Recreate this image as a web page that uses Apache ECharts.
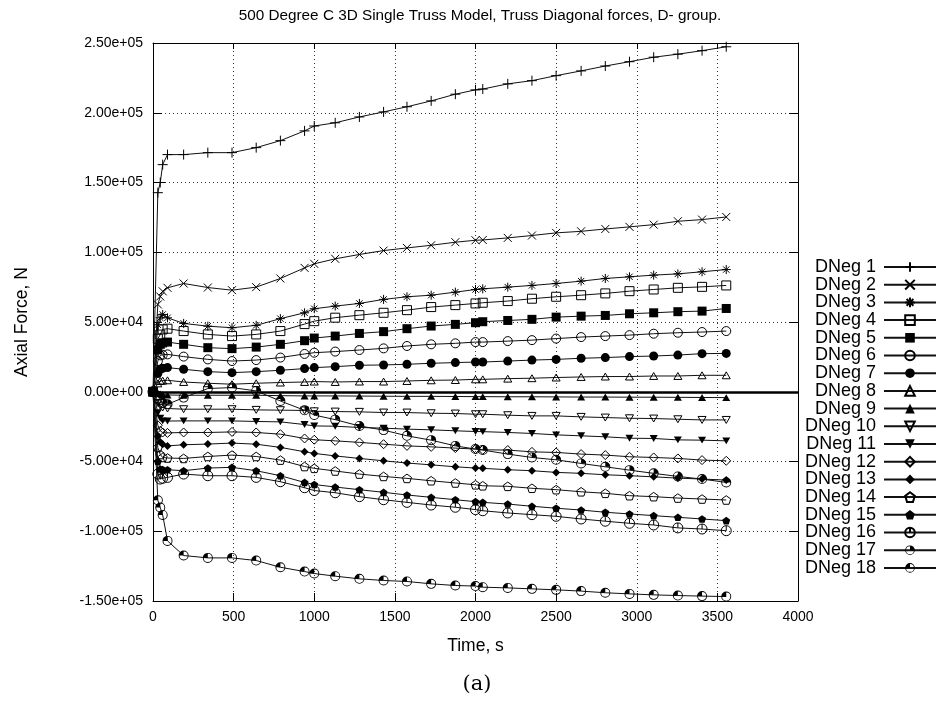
<!DOCTYPE html>
<html><head><meta charset="utf-8">
<script src="https://cdn.jsdelivr.net/npm/echarts@6/dist/echarts.min.js"></script>
<style>html,body{margin:0;padding:0;background:#fff}#c{width:944px;height:720px}</style>
</head><body><div id="c"></div>
<script>
const times = [0, 30, 45, 60, 90, 190, 340, 490, 640, 790, 940, 1000, 1130, 1280, 1430, 1575, 1725, 1875, 2000, 2045, 2200, 2350, 2500, 2655, 2805, 2955, 3105, 3255, 3405, 3555];
const DNeg1 = [0, 142700, 150000, 162800, 170000, 170000, 171400, 171400, 175000, 180000, 187000, 190500, 192800, 197000, 200600, 204300, 208500, 213300, 216400, 217000, 220700, 223000, 226600, 230000, 233500, 236600, 239800, 242000, 244500, 247300];
const DNeg2 = [0, 62600, 68300, 72000, 74500, 77600, 74700, 72800, 75000, 81200, 88800, 91700, 95300, 98400, 101200, 103100, 105000, 107200, 108600, 108800, 110300, 112000, 113900, 115000, 116700, 118200, 119800, 122200, 123400, 125300];
const DNeg3 = [0, 48000, 53000, 55400, 53000, 49000, 47000, 45900, 47600, 52400, 56600, 59500, 61400, 63300, 66200, 68100, 69200, 71400, 73300, 73800, 75000, 76200, 77600, 79300, 81200, 82400, 83600, 84500, 86000, 87600];
const DNeg4 = [0, 38000, 41000, 44700, 45200, 43500, 41100, 39900, 41100, 43500, 48500, 50600, 53100, 54900, 56600, 58500, 60700, 62100, 63300, 63800, 65000, 66700, 68100, 69200, 70500, 72100, 73300, 74500, 75200, 76200];
const DNeg5 = [0, 30000, 34000, 35000, 35600, 34000, 31600, 30900, 32000, 34000, 36600, 38500, 39900, 41800, 43100, 45200, 47100, 48300, 49500, 50200, 51100, 51900, 53500, 54200, 54700, 55900, 56600, 57400, 57800, 59700];
const DNeg6 = [0, 22000, 26100, 26500, 26800, 25200, 23200, 22000, 22700, 24500, 27100, 28000, 28800, 29900, 31100, 32800, 34000, 34700, 35600, 35600, 36300, 37000, 38100, 39200, 39900, 40600, 41600, 42300, 42800, 43500];
const DNeg7 = [0, 13000, 16100, 16800, 17300, 16100, 14400, 13700, 14400, 15400, 16600, 17300, 18000, 19000, 19200, 19700, 20400, 20900, 21300, 21300, 22000, 22700, 23200, 24000, 24500, 25200, 25600, 26300, 27300, 27500];
const DNeg8 = [0, 6000, 7700, 8000, 8200, 7000, 6100, 5400, 6100, 6600, 7000, 7300, 7000, 7300, 7300, 7700, 8200, 8400, 8900, 8900, 9400, 9700, 10200, 10600, 10900, 10900, 11300, 11300, 11800, 11800];
const DNeg9 = [0, -1000, -1500, -2000, -2300, -2500, -2500, -2500, -2500, -2800, -3000, -3000, -3000, -3100, -3200, -3300, -3300, -3400, -3500, -3500, -3600, -3600, -3700, -3800, -3800, -3900, -3900, -4000, -4100, -4200];
const DNeg10 = [0, -8000, -10000, -11300, -12000, -12500, -12500, -12500, -13000, -13200, -13400, -14000, -14200, -14400, -14900, -14900, -15400, -15600, -16100, -16100, -16800, -17300, -17300, -18000, -18500, -19000, -19200, -19700, -20200, -20200];
const DNeg11 = [0, -15000, -19000, -20900, -21000, -20900, -20900, -20900, -21300, -21600, -23500, -24500, -24700, -25600, -26100, -26800, -27300, -28000, -28500, -28600, -29200, -29900, -30900, -31600, -32300, -33300, -33500, -34500, -34700, -35200];
const DNeg12 = [0, -24000, -28000, -29200, -29500, -29200, -29200, -28800, -29200, -30400, -33500, -34400, -35200, -36300, -37600, -38800, -39500, -40400, -41100, -41600, -41800, -43100, -43500, -44700, -45400, -46600, -47100, -47800, -49000, -49500];
const DNeg13 = [0, -32000, -36000, -37600, -38800, -38000, -37500, -36800, -37600, -39900, -43000, -44200, -46000, -47800, -49500, -51100, -52400, -53800, -54700, -54900, -55900, -56600, -57800, -58500, -59500, -60200, -61000, -61900, -62600, -63300];
const DNeg14 = [0, -40000, -45000, -47100, -47500, -47800, -46400, -45400, -46400, -49000, -53600, -54900, -56800, -59000, -60700, -62100, -63800, -65400, -66700, -67400, -67800, -69200, -70200, -71700, -72800, -74500, -75200, -76200, -76900, -77600];
const DNeg15 = [0, -50000, -55400, -55700, -55900, -56600, -54700, -54200, -56600, -60200, -65000, -66500, -68300, -70200, -72100, -74000, -75700, -77400, -78800, -79300, -80500, -82100, -83500, -84800, -86400, -87600, -88800, -90000, -91200, -92400];
const DNeg16 = [0, -59000, -62600, -62000, -61400, -59000, -60200, -60200, -61400, -64500, -68800, -70800, -72400, -75200, -77400, -79300, -81200, -82800, -84500, -85300, -86900, -88100, -89300, -91200, -92800, -94300, -95500, -97600, -98400, -99600];
const DNeg17 = [0, -3000, -6000, -8000, -9000, -4200, 2300, 3000, 600, -6600, -13300, -16700, -20000, -24500, -27500, -31600, -34700, -38800, -41100, -41800, -44700, -47100, -48800, -51400, -53800, -56200, -58500, -60700, -62600, -65000];
const DNeg18 = [0, -77800, -83000, -88300, -106900, -117400, -119100, -119100, -121000, -125800, -128900, -130300, -132200, -134100, -135300, -136000, -137700, -138900, -139300, -140100, -140600, -141300, -142000, -142900, -144100, -144900, -145600, -146100, -146500, -146800];
const seriesNames = ['DNeg 1','DNeg 2','DNeg 3','DNeg 4','DNeg 5','DNeg 6','DNeg 7','DNeg 8','DNeg 9','DNeg 10','DNeg 11','DNeg 12','DNeg 13','DNeg 14','DNeg 15','DNeg 16','DNeg 17','DNeg 18'];
const seriesValues = [DNeg1,DNeg2,DNeg3,DNeg4,DNeg5,DNeg6,DNeg7,DNeg8,DNeg9,DNeg10,DNeg11,DNeg12,DNeg13,DNeg14,DNeg15,DNeg16,DNeg17,DNeg18];
const xTicks = {min: 0, max: 4000, interval: 500};
const yTicks = {min: -150000, max: 250000, interval: 50000};

const ring = 'M5,0 A5,5 0 1,1 5,10 A5,5 0 1,1 5,0 Z M5,0.9 A4.1,4.1 0 1,0 5,9.1 A4.1,4.1 0 1,0 5,0.9 Z ';
const markers = [
  {s:'path://M0,5L10,5M5,0L5,10', z:10, fill:false},
  {s:'path://M0,0L10,10M10,0L0,10', z:8, fill:false},
  {s:'path://M0,5L10,5M5,0L5,10M1.5,1.5L8.5,8.5M8.5,1.5L1.5,8.5', z:9, fill:false},
  {s:'rect', z:9, fill:false},
  {s:'rect', z:9, fill:true},
  {s:'circle', z:9, fill:false},
  {s:'circle', z:9, fill:true},
  {s:'path://M5,0L10,8.66L0,8.66Z', z:8, fill:false},
  {s:'path://M5,0L10,8.66L0,8.66Z', z:8, fill:true},
  {s:'path://M0,0L10,0L5,8.66Z', z:8, fill:false},
  {s:'path://M0,0L10,0L5,8.66Z', z:8, fill:true},
  {s:'path://M5,0L10,5L5,10L0,5Z', z:9, fill:false},
  {s:'path://M5,0L10,5L5,10L0,5Z', z:8, fill:true},
  {s:'path://M5,0L9.76,3.45L7.94,9.05L2.06,9.05L0.24,3.45Z', z:9, fill:false},
  {s:'path://M5,0L9.76,3.45L7.94,9.05L2.06,9.05L0.24,3.45Z', z:8, fill:true},
  {s:'path://M5,0 A5,5 0 1,1 5,10 A5,5 0 1,1 5,0 Z M5,0L5,5', z:10, fill:false},
  {s:'path://' + ring + 'M5,5 L9.1,5 A4.1,4.1 0 0,0 5,0.9 Z', z:10, fill:true},
  {s:'path://' + ring + 'M5,5 L5,0.9 A4.1,4.1 0 0,0 0.9,5 Z', z:10, fill:true}
];

const series = seriesNames.map((name, k) => {
  const m = markers[k];
  const s = {
    name: name,
    type: 'line',
    data: times.map((t, i) => [t, seriesValues[k][i]]),
    symbol: m.s,
    symbolSize: m.z,
    showAllSymbol: true,
    symbolKeepAspect: true,
    lineStyle: {color: '#111', width: 1},
    itemStyle: m.fill ? {color: '#000', borderWidth: 0} : {color: 'none', borderColor: '#000', borderWidth: 1},
    emphasis: {disabled: true},
    z: 3
  };
  if (k === 0) {
    s.markLine = {
      silent: true, symbol: 'none', label: {show: false},
      lineStyle: {color: '#000', width: 2.5, type: 'solid'},
      data: [{yAxis: 0}], animation: false
    };
  }
  return s;
});

function yFmt(v) {
  return v.toExponential(2).replace(/e([+-])(\d)$/, 'e$10$2');
}

const font = 'Liberation Sans, Arial, Helvetica, sans-serif';
const chart = echarts.init(document.getElementById('c'), null, {renderer: 'canvas'});
chart.setOption({
  animation: false,
  backgroundColor: '#fff',
  textStyle: {fontFamily: font, color: '#000'},
  title: [{
    text: '500 Degree C 3D Single Truss Model, Truss Diagonal forces, D- group.',
    left: 475, top: 3, textAlign: 'center',
    textStyle: {fontFamily: font, fontSize: 15.3, fontWeight: 'normal', color: '#000'}
  }, {
    text: '(a)', left: 472, top: 669, textAlign: 'center',
    textStyle: {fontFamily: 'DejaVu Serif, Liberation Serif, serif', fontSize: 21, fontWeight: 'normal', color: '#000'}
  }],
  grid: {left: 153, top: 43, width: 645, height: 558, containLabel: false, outerBoundsMode: 'none'},
  legend: {
    orient: 'vertical', right: 7, top: 258, align: 'right', padding: 0,
    itemWidth: 52, itemHeight: 12, itemGap: -0.3,
    textStyle: {fontFamily: font, fontSize: 18, color: '#000', padding: [0, 3, 0, 0]},
    data: seriesNames
  },
  xAxis: [{
    type: 'value', min: xTicks.min, max: xTicks.max, interval: xTicks.interval,
    name: 'Time, s', nameLocation: 'middle', nameGap: 36,
    nameTextStyle: {fontFamily: font, fontSize: 17.5, color: '#000'},
    axisLine: {show: true, onZero: false, lineStyle: {color: '#000', width: 1}},
    axisTick: {show: true, inside: true, length: 8, lineStyle: {color: '#000'}},
    axisLabel: {fontFamily: font, fontSize: 14, color: '#000', margin: 9, formatter: v => String(v)},
    splitLine: {show: true, lineStyle: {color: '#333', width: 1, type: [1, 3]}}
  }, {
    type: 'value', position: 'top', min: xTicks.min, max: xTicks.max, interval: xTicks.interval,
    axisLine: {show: true, onZero: false, lineStyle: {color: '#000', width: 1}},
    axisTick: {show: true, inside: true, length: 6, lineStyle: {color: '#000'}},
    axisLabel: {show: false}, splitLine: {show: false}
  }],
  yAxis: [{
    type: 'value', min: yTicks.min, max: yTicks.max, interval: yTicks.interval,
    name: 'Axial Force, N', nameLocation: 'middle', nameGap: 122, nameRotate: 90,
    nameTextStyle: {fontFamily: font, fontSize: 17.5, color: '#000'},
    axisLine: {show: true, onZero: false, lineStyle: {color: '#000', width: 1}},
    axisTick: {show: true, inside: true, length: 9, lineStyle: {color: '#000'}},
    axisLabel: {fontFamily: font, fontSize: 14, color: '#000', margin: 10, formatter: yFmt},
    splitLine: {show: true, lineStyle: {color: '#333', width: 1, type: [1, 3]}}
  }, {
    type: 'value', position: 'right', min: yTicks.min, max: yTicks.max, interval: yTicks.interval,
    axisLine: {show: true, onZero: false, lineStyle: {color: '#000', width: 1}},
    axisTick: {show: true, inside: true, length: 9, lineStyle: {color: '#000'}},
    axisLabel: {show: false}, splitLine: {show: false}
  }],
  series: series
});
</script>
</body></html>
